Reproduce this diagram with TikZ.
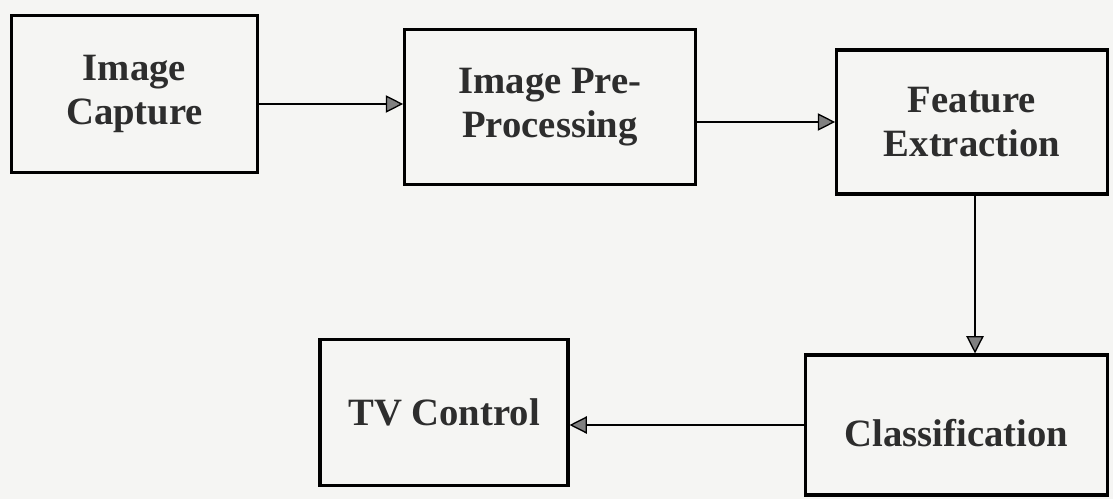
\documentclass[tikz,border=0pt]{standalone}
\usepackage{fontspec}
\setmainfont{Liberation Serif}
\usetikzlibrary{arrows.meta}
\definecolor{paper}{RGB}{245,245,243}
\definecolor{ink}{RGB}{45,45,45}
\begin{document}
\begin{tikzpicture}[x=0.75pt,y=-0.75pt,
  block/.style={draw=black,line width=2.3pt,fill=paper,inner sep=0pt,align=center,
    text=ink,font=\fontsize{29}{33}\selectfont\bfseries},
  arr/.style={line width=2pt,draw=black,
    -{Triangle[length=13pt,width=13pt,fill=black!50,line width=1pt]}}]
  % page
  \fill[paper] (0,0) rectangle (1113,499);
  \useasboundingbox (0,0) rectangle (1113,499);
  % processing blocks
  \node[block,minimum width=185pt,minimum height=118pt] (cap) at (134.5,94) {Image\\Capture};
  \node[block,minimum width=218pt,minimum height=116pt] (pre) at (550,107) {Image Pre-\\Processing};
  \node[block,minimum width=203pt,minimum height=108pt] (feat) at (972,122) {Feature\\Extraction};
  \node[block,minimum width=186pt,minimum height=109pt] (tv) at (444,412.5) {TV Control};
  \node[block,minimum width=227pt,minimum height=105pt] (cls) at (956.5,425) {\raisebox{-6pt}[\height][\depth]{Classification}};
  % flow
  \draw[arr] (cap.east |- 0,104) -- (pre.west |- 0,104);
  \draw[arr] (pre.east |- feat.west) -- (feat.west);
  \draw[arr] (feat.south -| 975,0) -- (cls.north -| 975,0);
  \draw[arr] (cls.west) -- (cls.west -| tv.east);
\end{tikzpicture}
\end{document}
